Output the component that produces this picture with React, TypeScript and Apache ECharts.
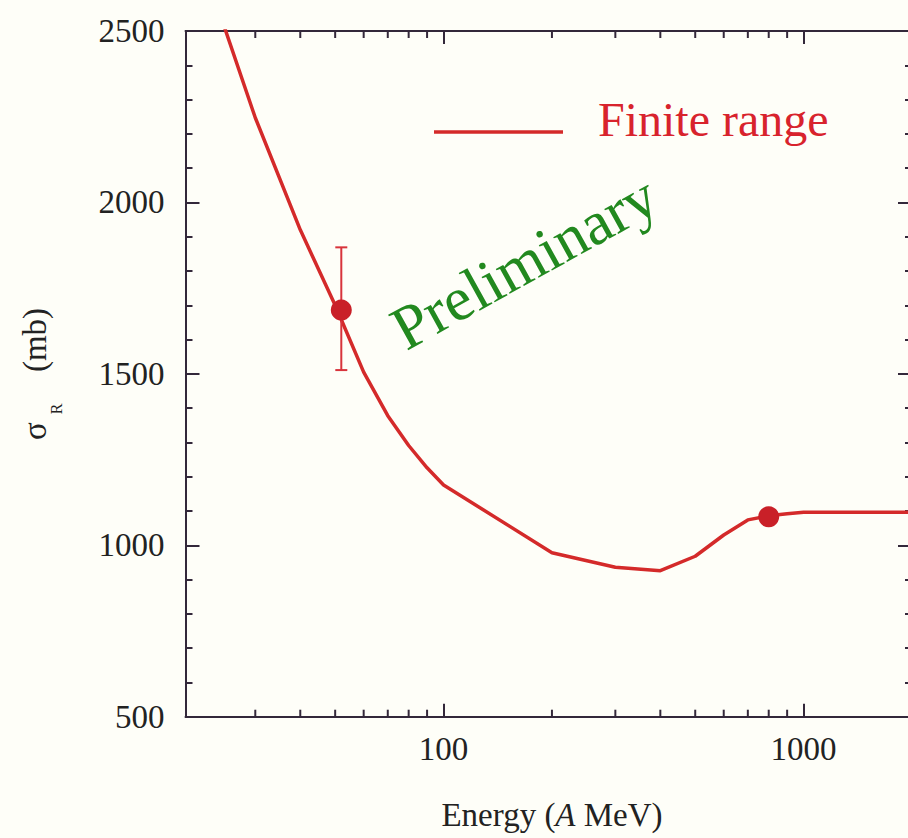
import React, { useEffect, useRef } from "react";
import * as echarts from "echarts";

// Finite-range calculation (Energy in A MeV, sigma_R in mb)
const energy = [20, 30, 40, 50, 60, 70, 80, 90, 100, 200, 300, 400, 500, 600, 700, 800, 900, 1000, 2000];
const sigmaR = [2790, 2247, 1920, 1700, 1505, 1378, 1291, 1226, 1176, 978, 936, 926, 968, 1030, 1074, 1086, 1092, 1096, 1096];

// Measured points
const obsEnergy = [52, 800];
const obsSigma = [1686, 1083];
const obsErrLow = [1511, 1083];
const obsErrHigh = [1869, 1083];

// Axis ticks
const xMinorTicks = [30, 40, 50, 60, 70, 80, 90, 200, 300, 400, 500, 600, 700, 800, 900];
const xMajorLabels = [100, 1000];

const RED = "#d42a2a";
const DOT = "#c92028";
const AXIS = "#33283a";
const FONT = "'Liberation Serif', 'Times New Roman', serif";

export default function App() {
  const ref = useRef<HTMLDivElement>(null);

  useEffect(() => {
    if (!ref.current) return;
    const chart = echarts.init(ref.current, undefined, { renderer: "svg" });

    const xAxisBase = {
      type: "log" as const,
      logBase: 10,
      min: 19.2,
      max: 2000,
      axisLine: { show: true, lineStyle: { color: AXIS, width: 2 } },
      axisTick: { show: true, inside: true, length: 13, lineStyle: { color: AXIS, width: 2 } },
      splitLine: { show: false },
    };
    const yAxisBase = {
      type: "value" as const,
      min: 500,
      max: 2500,
      interval: 500,
      axisLine: { show: true, lineStyle: { color: AXIS, width: 2 } },
      axisTick: { show: true, inside: true, length: 14, lineStyle: { color: AXIS, width: 2 } },
      minorTick: { show: true, splitNumber: 5, length: 7, lineStyle: { color: AXIS, width: 2 } },
      splitLine: { show: false },
      minorSplitLine: { show: false },
    };

    const option: any = {
      animation: false,
      backgroundColor: "#fefef8",
      grid: {
        left: 185.5,
        top: 31,
        width: 726.5,
        height: 685.7,
        containLabel: false,
        outerBoundsMode: "none",
      },
      xAxis: [
        {
          ...xAxisBase,
          position: "bottom",
          axisLabel: {
            show: true,
            margin: 16,
            color: "#222",
            fontFamily: FONT,
            fontSize: 33,
            showMinLabel: false,
            showMaxLabel: false,
            formatter: (v: number) => {
              const r = Math.round(v);
              return Math.abs(v - r) < 1e-6 && xMajorLabels.includes(r) ? String(r) : "";
            },
          },
        },
        {
          ...xAxisBase,
          position: "top",
          axisLabel: { show: false },
        },
      ],
      yAxis: [
        {
          ...yAxisBase,
          position: "left",
          axisLabel: {
            show: true,
            margin: 21,
            color: "#222",
            fontFamily: FONT,
            fontSize: 33,
            formatter: (v: number) => String(Math.round(v)),
          },
        },
        {
          ...yAxisBase,
          position: "right",
          axisLabel: { show: false },
        },
      ],
      series: [
        {
          type: "line",
          name: "Finite range",
          data: energy.map((e, i) => [e, sigmaR[i]]),
          showSymbol: false,
          symbol: "none",
          smooth: false,
          clip: true,
          lineStyle: { color: RED, width: 3.5 },
          itemStyle: { color: RED },
          z: 3,
        },
        {
          type: "custom",
          name: "error bars",
          data: obsEnergy.map((e, i) => [e, obsErrLow[i], obsErrHigh[i]]),
          encode: { x: 0, y: [1, 2] },
          renderItem: (params: any, api: any) => {
            const e = api.value(0);
            const lo = api.coord([e, api.value(1)]);
            const hi = api.coord([e, api.value(2)]);
            if (Math.abs(hi[1] - lo[1]) < 1) return { type: "group", children: [] };
            const hw = 6;
            const st = { stroke: "#d8343c", lineWidth: 2 };
            return {
              type: "group",
              children: [
                { type: "line", shape: { x1: lo[0], y1: lo[1], x2: hi[0], y2: hi[1] }, style: st },
                { type: "line", shape: { x1: lo[0] - hw, y1: lo[1], x2: lo[0] + hw, y2: lo[1] }, style: st },
                { type: "line", shape: { x1: hi[0] - hw, y1: hi[1], x2: hi[0] + hw, y2: hi[1] }, style: st },
              ],
            };
          },
          z: 4,
        },
        {
          type: "scatter",
          name: "data",
          data: obsEnergy.map((e, i) => [e, obsSigma[i]]),
          symbol: "circle",
          symbolSize: 21,
          itemStyle: { color: DOT, opacity: 1 },
          z: 5,
        },
        {
          type: "custom",
          name: "minor x ticks",
          data: xMinorTicks.map((v) => [v, 500]),
          encode: { x: 0, y: 1 },
          clip: false,
          silent: true,
          renderItem: (params: any, api: any) => {
            const v = api.value(0);
            const b = api.coord([v, 500]);
            const t = api.coord([v, 2500]);
            const st = { stroke: AXIS, lineWidth: 2 };
            return {
              type: "group",
              children: [
                { type: "line", shape: { x1: b[0], y1: b[1], x2: b[0], y2: b[1] - 7 }, style: st },
                { type: "line", shape: { x1: t[0], y1: t[1], x2: t[0], y2: t[1] + 7 }, style: st },
              ],
            };
          },
          z: 2,
        },
      ],
      graphic: [
        // legend
        {
          type: "line",
          shape: { x1: 434, y1: 132, x2: 563, y2: 132 },
          style: { stroke: RED, lineWidth: 3.5 },
        },
        {
          type: "text",
          x: 598,
          y: 119,
          style: {
            text: "Finite range",
            fill: "#d8232d",
            font: `48px ${FONT}`,
            textAlign: "left",
            textVerticalAlign: "middle",
          },
        },
        // watermark
        {
          type: "text",
          x: 524,
          y: 262,
          rotation: (29 * Math.PI) / 180,
          style: {
            text: "Preliminary",
            fill: "#22891f",
            font: `62px ${FONT}`,
            textAlign: "center",
            textVerticalAlign: "middle",
          },
        },
        // x axis name
        {
          type: "text",
          x: 552,
          y: 815,
          style: {
            text: "{n|Energy (}{i|A}{n| MeV)}",
            textAlign: "center",
            textVerticalAlign: "middle",
            rich: {
              n: { font: `33px ${FONT}`, fill: "#222" },
              i: { font: `italic 33px ${FONT}`, fill: "#222" },
            },
          },
        },
        // y axis name
        {
          type: "text",
          x: 35,
          y: 340,
          rotation: Math.PI / 2,
          style: {
            text: "(mb)",
            fill: "#222",
            font: `33px ${FONT}`,
            textAlign: "center",
            textVerticalAlign: "middle",
          },
        },
        {
          type: "text",
          x: 35,
          y: 431,
          rotation: Math.PI / 2,
          style: {
            text: "σ",
            fill: "#222",
            font: `33px ${FONT}`,
            textAlign: "center",
            textVerticalAlign: "middle",
          },
        },
        {
          type: "text",
          x: 56,
          y: 409,
          rotation: Math.PI / 2,
          style: {
            text: "R",
            fill: "#222",
            font: `16px ${FONT}`,
            textAlign: "center",
            textVerticalAlign: "middle",
          },
        },
      ],
    };

    chart.setOption(option);
    return () => chart.dispose();
  }, []);

  return (
    <div
      ref={ref}
      style={{ position: "fixed", left: 0, top: 0, width: 908, height: 838 }}
    />
  );
}
